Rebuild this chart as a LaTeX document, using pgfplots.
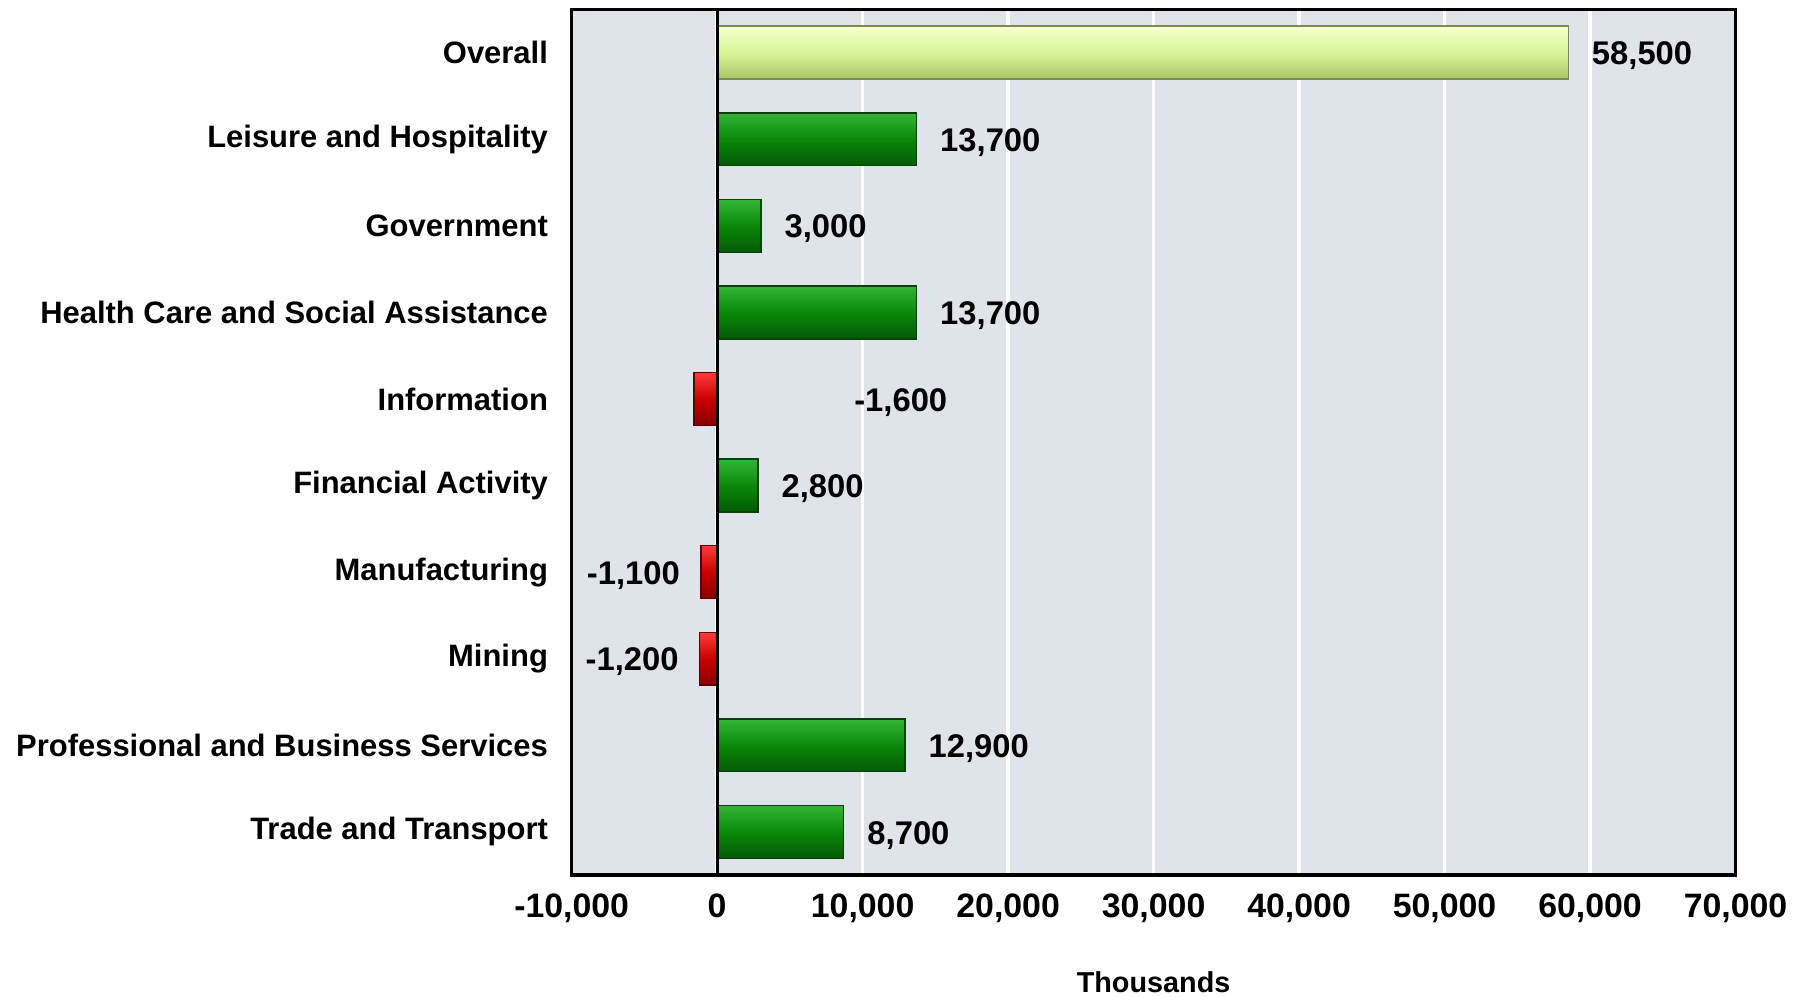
\documentclass[border=0pt]{standalone}
\usepackage{pgfplots}
\pgfplotsset{compat=1.18}
\usepackage{fontspec}
\setmainfont{Liberation Sans}
\definecolor{bgc}{HTML}{DFE4EA}
\definecolor{gtop}{HTML}{35B535}
\definecolor{gmid}{HTML}{0A880A}
\definecolor{gbot}{HTML}{035A03}
\definecolor{gedge}{HTML}{0A3F0A}
\definecolor{otop}{HTML}{F6FFD2}
\definecolor{omid}{HTML}{D6F595}
\definecolor{obot}{HTML}{A8C468}
\definecolor{oedge}{HTML}{7D8C55}
\definecolor{rtop}{HTML}{FF3A3A}
\definecolor{rmid}{HTML}{CC0000}
\definecolor{rbot}{HTML}{850000}
\definecolor{redge}{HTML}{5A0000}
\pgfplotsset{
  gbar/.style={xbar, bar width=14.7pt, bar shift=0pt, draw=gedge, line width=0.4pt, top color=gtop, bottom color=gbot, middle color=gmid, forget plot},
  obar/.style={xbar, bar width=14.7pt, bar shift=0pt, draw=oedge, line width=0.4pt, top color=otop, bottom color=obot, middle color=omid, forget plot},
  rbar/.style={xbar, bar width=14.7pt, bar shift=0pt, draw=redge, line width=0.4pt, top color=rtop, bottom color=rbot, middle color=rmid, forget plot},
}
\begin{document}
\begin{tikzpicture}
\begin{axis}[name=ax, scale only axis, width=323.3pt, height=240.5pt,
  xmin=-10000, xmax=70000, ymin=-0.5, ymax=9.5,
  xtick={-10000,0,10000,20000,30000,40000,50000,60000,70000},
  scaled x ticks=false,
  /pgf/number format/fixed, /pgf/number format/1000 sep={,},
  /pgf/number format/assume math mode=true,
  ytick={0,...,9},
  yticklabels={Trade and Transport, Professional and Business Services, Mining, Manufacturing, Financial Activity, Information, Health Care and Social Assistance, Government, Leisure and Hospitality, Overall},
  major tick length=0pt,
  xmajorgrids, major grid style={white, line width=1pt},
  axis background/.style={fill=bgc},
  axis line style={black, line width=1pt},
  xticklabel style={font=\bfseries\fontsize{9.4}{11}\selectfont, yshift=-1.7pt},
  yticklabel style={font=\bfseries\fontsize{8.6}{10}\selectfont, inner sep=0pt, xshift=-6.4pt},
  xlabel={Thousands},
  xlabel style={font=\bfseries\fontsize{8}{10}\selectfont, at={(axis description cs:0.5,0)}, anchor=center, yshift=-29.7pt},
]
\addplot[obar] coordinates {(58500,9)};
\addplot[gbar] coordinates {(13700,8)};
\addplot[gbar] coordinates {(3000,7)};
\addplot[gbar] coordinates {(13700,6)};
\addplot[rbar] coordinates {(-1600,5)};
\addplot[gbar] coordinates {(2800,4)};
\addplot[rbar] coordinates {(-1100,3)};
\addplot[rbar] coordinates {(-1200,2)};
\addplot[gbar] coordinates {(12900,1)};
\addplot[gbar] coordinates {(8700,0)};
\draw[black, line width=0.8pt] (axis cs:0,-0.5) -- (axis cs:0,9.5);
\addplot[draw=none, mark=none, forget plot, point meta=explicit symbolic, nodes near coords,
  nodes near coords style={anchor=west, inner sep=0pt, xshift=6.4pt, yshift=-0.9pt, font=\bfseries\fontsize{9.1}{11}\selectfont}]
  table[meta=lab] {
x y lab
58500 9 58,500
13700 8 13,700
3000 7 3,000
13700 6 13,700
2800 4 2,800
12900 1 12,900
8700 0 8,700
};
\addplot[draw=none, mark=none, forget plot, point meta=explicit symbolic, nodes near coords,
  nodes near coords style={anchor=west, inner sep=0pt, yshift=-0.9pt, font=\bfseries\fontsize{9.1}{11}\selectfont}]
  table[meta=lab] {
x y lab
9380 5 -1,600
};
\addplot[draw=none, mark=none, forget plot, point meta=explicit symbolic, nodes near coords,
  nodes near coords style={anchor=east, inner sep=0pt, yshift=-0.9pt, font=\bfseries\fontsize{9.1}{11}\selectfont}]
  table[meta=lab] {
x y lab
-2520 3 -1,100
-2600 2 -1,200
};
\end{axis}
\pgfresetboundingbox
\path[use as bounding box] ([xshift=-158.8pt,yshift=-33.6pt]ax.south west) rectangle ++(500pt,276.7pt);
\end{tikzpicture}
\end{document}
